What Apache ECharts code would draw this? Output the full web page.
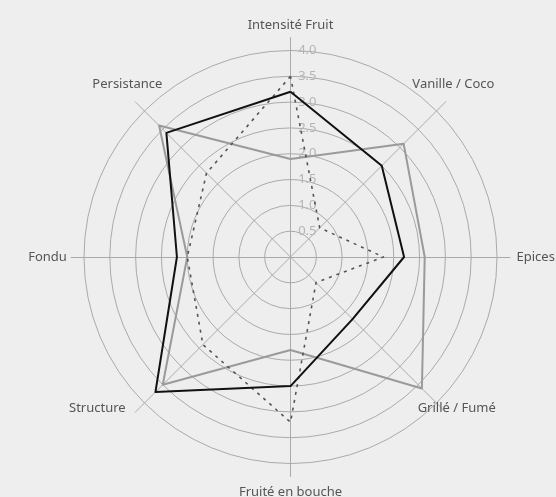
<!DOCTYPE html>
<html>
<head>
<meta charset="utf-8">
<script src="https://cdn.jsdelivr.net/npm/echarts@6/dist/echarts.min.js"></script>
<style>
html,body{margin:0;padding:0;background:#eeeeee;}
#c{width:556px;height:497px;}
</style>
</head>
<body>
<div id="c"></div>
<script>
const categories = ['Intensité Fruit','Vanille / Coco','Epices','Grillé / Fumé','Fruité en bouche','Structure','Fondu','Persistance'];
const seriesBlack = [3.2, 2.5, 2.2, 1.7, 2.5, 3.7, 2.2, 3.4];
const seriesGrey = [1.9, 3.1, 2.6, 3.6, 1.8, 3.5, 2.0, 3.6];
const seriesDotted = [3.5, 0.8, 1.8, 0.7, 3.2, 2.4, 2.0, 2.3];
const axisMax = 4.0;

// name placement per category (gap beyond axis end, padding [t, r, b, l])
const nameGaps = [12.5, 25, 25.7, -5, 16, -5, 23.5, 25];
const namePads = [[0,0,0,0],[0,20,0,0],[0,0,0,0],[0,0,0,29],[0,0,0,0],[0,83,0,0],[0,0,0,0],[0,0,0,19.4]];

// ECharts radar runs counter-clockwise; reorder so the chart reads clockwise
const order = [0, 7, 6, 5, 4, 3, 2, 1];
const reorder = arr => order.map(i => arr[i]);

const chart = echarts.init(document.getElementById('c'), null, {renderer:'canvas'});
const font = 'Noto Sans';
const center = [290.5, 257];

const ind0 = order.map((i, k) => {
  const o = {name: categories[i], min: 0, max: axisMax};
  if (k === 0) o.axisLabel = {show: true};
  return o;
});
const ind1 = order.map(i => ({
  name: categories[i], min: 0, max: axisMax,
  nameGap: nameGaps[i],
  nameTextStyle: {padding: namePads[i]}
}));

chart.setOption({
  backgroundColor: '#eeeeee',
  animation: false,
  radar: [
    {
      center: center,
      radius: 206.5,
      startAngle: 90,
      splitNumber: 8,
      shape: 'circle',
      indicator: ind0,
      axisName: {show: false},
      axisLine: {show: false},
      axisTick: {show: false},
      axisLabel: {show: false, color: '#b4b4b4', fontFamily: font, fontSize: 13, margin: -26,
        formatter: v => v === 0 ? '' : v.toFixed(1)},
      splitLine: {lineStyle: {color: '#aaaaaa', width: 1}},
      splitArea: {show: false}
    },
    {
      center: center,
      radius: 219.5,
      startAngle: 90,
      splitNumber: 1,
      shape: 'circle',
      indicator: ind1,
      axisName: {color: '#555555', fontFamily: font, fontSize: 13, align: 'center', verticalAlign: 'middle'},
      axisLine: {show: true, lineStyle: {color: '#aaaaaa', width: 1}},
      axisTick: {show: false},
      axisLabel: {show: false},
      splitLine: {show: false},
      splitArea: {show: false}
    }
  ],
  series: [{
    type: 'radar',
    radarIndex: 0,
    symbol: 'none',
    silent: true,
    data: [
      {value: reorder(seriesGrey), lineStyle: {color: '#9a9a9a', width: 2}},
      {value: reorder(seriesDotted), lineStyle: {color: '#555555', width: 1.6, type: [3, 5]}},
      {value: reorder(seriesBlack), lineStyle: {color: '#111111', width: 2}}
    ]
  }]
});
</script>
</body>
</html>
